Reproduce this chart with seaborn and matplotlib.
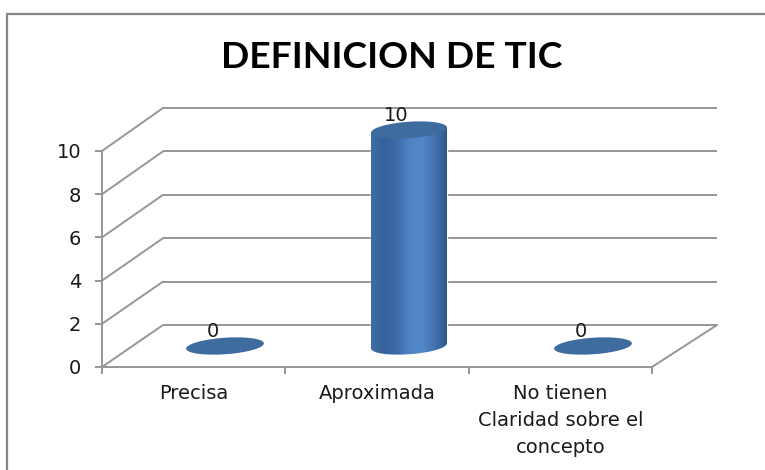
# recreate DEFINICION DE TIC chart (fake 3d cylinders in seaborn)
import numpy as np
import matplotlib
matplotlib.use("Agg")
import matplotlib.pyplot as plt
import seaborn as sns
from matplotlib.colors import LinearSegmentedColormap
from matplotlib.lines import Line2D
from matplotlib.patches import ConnectionPatch, Ellipse, Polygon
from matplotlib.transforms import IdentityTransform, ScaledTranslation

title = "DEFINICION DE TIC"
categories = ["Precisa", "Aproximada", "No tienen\nClaridad sobre el\nconcepto"]
values = [0, 10, 0]
y_ticks = [0, 2, 4, 6, 8, 10]

W, H = 765, 470
LINE = "#969696"
BORDER = "#868686"
TEXT = "#1a1a1a"

sns.set_theme(style="white")
plt.rcParams["font.family"] = ["DejaVu Sans"]


def box(left, bottom, right, top):
    # pixel box of the picture -> figure fractions
    return [left / W, 1 - bottom / H, (right - left) / W, (bottom - top) / H]


fig = plt.figure(figsize=(W / 100, H / 100), dpi=100, facecolor="white")

#%% back wall
back = fig.add_axes(box(163, 325, 717, 108), facecolor="none")
back.set_xlim(0, 1)
back.set_ylim(0, 10)
back.hlines(y_ticks, 0, 1, color=LINE, lw=1.4, clip_on=False)
back.set_axis_off()

#%% front plane, holds axis and labels
front = fig.add_axes(box(102, 367, 652, 151), facecolor="none")
front.set_xlim(0, 3)
front.set_ylim(0, 10)
front.set_yticks(y_ticks)
front.set_xticks([0, 1, 2, 3])
front.set_xticklabels([])
front.set_xticks([0.5, 1.5, 2.5], labels=categories, minor=True)
front.tick_params(axis="y", length=5, width=1.4, color=LINE, labelsize=14,
                  labelcolor=TEXT, pad=10, left=True)
front.tick_params(axis="x", which="major", length=5, width=1.4, color=LINE, bottom=True)
front.tick_params(axis="x", which="minor", length=0, labelsize=14, labelcolor=TEXT, pad=12.5)
for lab in front.get_xticklabels(minor=True):
    lab.set_linespacing(1.53)
sns.despine(ax=front)
for side in ["left", "bottom"]:
    front.spines[side].set_color(LINE)
    front.spines[side].set_linewidth(1.4)

# side wall and floor diagonals
for v in y_ticks:
    fig.add_artist(ConnectionPatch((0, v), (0, v), coordsA=front.transData,
                                   coordsB=back.transData, color=LINE, lw=1.4))
fig.add_artist(ConnectionPatch((3, 0), (1, 0), coordsA=front.transData,
                               coordsB=back.transData, color=LINE, lw=1.4))

#%% bars sit half way into the depth
mid = fig.add_axes(box(133, 346, 685, 130), facecolor="none", zorder=3)
sns.barplot(x=categories, y=values, ax=mid, width=0.413, color="#3f6c9f", saturation=1)
mid.set_xlim(-0.5, 2.5)
mid.set_ylim(0, 10)
mid.set_axis_off()

shade = LinearSegmentedColormap.from_list(
    "cyl", ["#3f6ea6", "#36609a", "#3d6ca8", "#4f82c4", "#5287c9", "#4474b0", "#2f5a8c"])
ramp = np.linspace(0, 1, 200).reshape(1, -1)
cap_color = "#3f6c9f"
CAP_W, CAP_H, TILT = 78, 16.5, 4
RISE = 0.12  # tilt of the cap over half a bar, in y units


def shaded(clip, x0, x1, v):
    im = mid.imshow(ramp, cmap=shade, aspect="auto", extent=[x0, x1, -1, v + 1], zorder=2)
    im.set_clip_box(fig.bbox)
    im.set_clip_path(clip)


for i, (v, bar) in enumerate(zip(values, mid.patches)):
    bar.set_facecolor("none")
    foot_at = IdentityTransform() + ScaledTranslation(i, 0, mid.transData)
    top_at = IdentityTransform() + ScaledTranslation(i, v, mid.transData)
    if v > 0:
        x0, x1 = bar.get_x(), bar.get_x() + bar.get_width()
        side = Polygon([(x0, -RISE), (x1, RISE), (x1, v + RISE), (x0, v - RISE)],
                       fc="none", ec="none")
        mid.add_patch(side)
        shaded(side, x0, x1, v)
        foot = Ellipse((0, 0), 76, CAP_H, angle=TILT, transform=foot_at, fc="none", ec="none")
        mid.add_patch(foot)
        shaded(foot, x0, x1, v)
    mid.add_patch(Ellipse((0, 0), CAP_W if v == 0 else 76, CAP_H, angle=TILT, transform=top_at,
                          fc=cap_color, ec="none", zorder=3, clip_on=False))
    mid.annotate(str(v), (i, v), xytext=(-9, 10.5), textcoords="offset points",
                 ha="center", va="center", fontsize=14, color=TEXT, zorder=4,
                 annotation_clip=False)
mid.set_xlim(-0.5, 2.5)
mid.set_ylim(0, 10)

#%% title and chart border (only left and top are inside the picture)
fig.text(392 / W, 1 - 57 / H, title, ha="center", va="center", fontsize=26.8,
         fontweight="bold", color="black", family=["Lato", "DejaVu Sans"])
fig.add_artist(Line2D([7 / W, 7 / W, 1], [0, 1 - 14 / H, 1 - 14 / H], transform=fig.transFigure,
                      color=BORDER, lw=1.6, solid_joinstyle="miter"))

fig.savefig("out.png", dpi=100)
